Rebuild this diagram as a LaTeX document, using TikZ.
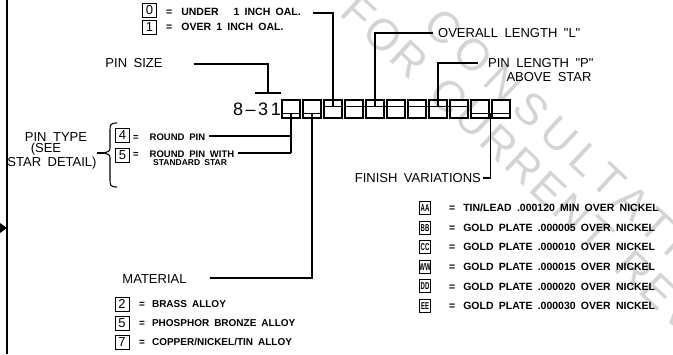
\documentclass[tikz,border=0pt]{standalone}
\usepackage{fontspec}
\setmainfont{Liberation Sans}
\newfontfamily\cadnote[WordSpace=2.2]{Liberation Sans}
\newfontfamily\cadhead[WordSpace=1.8]{Liberation Sans}
\newfontfamily\cadnum[LetterSpace=14]{Liberation Sans}
\newfontfamily\cadcode[FakeStretch=0.6]{Liberation Sans}
\newfontfamily\cadmarka[LetterSpace=18]{Liberation Sans}
\newfontfamily\cadmarkb[LetterSpace=6,WordSpace=1.5]{Liberation Sans}
\usetikzlibrary{positioning,calc}
\newcommand\keyeq{=\hspace{9pt}}
\tikzset{
  lead/.style={line width=1.1pt},
  digitbox/.style={draw,line width=1.1pt,minimum width=18pt,minimum height=18pt,inner sep=0pt},
  keybox/.style={draw,line width=1pt,minimum width=14pt,minimum height=14pt,inner sep=0pt,font=\fontsize{13}{13}\selectfont},
  codebox/.style={draw,line width=1pt,minimum width=11pt,minimum height=13pt,inner sep=0pt,font=\fontsize{10}{10}\cadcode\bfseries},
  note/.style={inner sep=0pt,anchor=west,font=\fontsize{10}{10}\cadnote\bfseries},
  head/.style={inner sep=0pt,font=\fontsize{13}{13}\cadhead},
  stamp/.style={inner sep=0pt,anchor=west,rotate=-43,text=black!17},
}
\begin{document}
\begin{tikzpicture}[x=1pt,y=-1pt,line join=miter]
\useasboundingbox (0,0) rectangle (673,354);
% watermark behind everything
\node[stamp,font=\fontsize{44}{44}\cadmarka] (wm1) at (432,16) {CONSULTATION};
\node[stamp,font=\fontsize{44}{44}\cadmarkb] (wm2) at (349,3) {FOR CURRENT REVISION};

% frame line with marker
\draw[lead] (7,0) -- (7,354);
\fill (0,223) -- (7,228) -- (0,233) -- cycle;

% part number and digit boxes
\node[inner sep=0pt,anchor=east,font=\fontsize{18}{18}\cadnum] (num) at (281,109) {8–31};
\foreach \i in {1,...,11}
  \node[digitbox] (b\i) at ({291+21*(\i-1)},109) {};

% pin size
\node[head] (psz) at (134,63) {PIN SIZE};
\coordinate (szl) at (255,93); \coordinate (szr) at (281,93);
\draw[lead] (szl) -- (szr);
\draw[lead] ([xshift=31pt,yshift=-1pt]psz.east) -| ($(szl)!.5!(szr)$);

% length code
\node[keybox] (k0) at (149.5,10) {0};
\node[keybox,below=2.5pt of k0] (k1) {1};
\node[note,font=\fontsize{10.5}{10.5}\cadnote\bfseries] (u0) at (166,12) {\keyeq UNDER\hspace{15pt}1 INCH OAL.};
\node[note,font=\fontsize{10.5}{10.5}\cadnote\bfseries] (u1) at (166,27) {\keyeq OVER 1 INCH OAL.};
\draw[lead] ([yshift=-7pt]b3.north west) coordinate (oa) -- ([yshift=-7pt]b3.north east) coordinate (ob);
\draw[lead] ([xshift=12pt,yshift=-1pt]u0.east) -| ($(oa)!.5!(ob)$);

% overall length
\draw[lead] ([yshift=-7pt]b4.north west) coordinate (la) -- ([yshift=-7pt]b6.north east) coordinate (lb);
\node[head,anchor=west] (ovl) at (438,33) {OVERALL LENGTH "L"};
\draw[lead] ($(la)!.5!(lb)$) |- ([xshift=-5pt]ovl.west);

% pin length
\draw[lead] ([yshift=-7pt]b7.north west) coordinate (pa) -- ([yshift=-7pt]b9.north east) coordinate (pb);
\node[head,anchor=west] (pln) at (488,63) {PIN LENGTH "P"};
\node[head] (abv) at (549,77) {ABOVE STAR};
\draw[lead] ($(pa)!.5!(pb)$) |- ([xshift=-10pt]pln.west);

% pin type
\node[head] (ptp) at (56,137) {PIN TYPE};
\node[head] (see) at (46,149) {(SEE};
\node[head] (sdt) at (52,163) {STAR DETAIL)};
\draw[lead] (117,123) .. controls (110,123) and (110,125) .. (110,131) -- (110,147)
  .. controls (110,151) .. (104,153) .. controls (110,155) .. (110,159) -- (110,179)
  .. controls (110,185) and (110,187) .. (117,187);
\draw[lead] (97,153) -- (104,153);
\node[keybox] (k4) at (122.5,135) {4};
\node[keybox] (k5) at (122.5,155) {5};
\node[note,font=\fontsize{9.5}{9.5}\cadnote\bfseries] (r4) at (133,137) {=\hspace{11pt}ROUND PIN};
\node[note,font=\fontsize{9.5}{9.5}\cadnote\bfseries] (r5) at (133,154) {=\hspace{11pt}ROUND PIN WITH};
\node[note,font=\fontsize{8.5}{8.5}\cadnote\bfseries] (r5b) at (153,163) {STANDARD STAR};
\draw[lead] ([yshift=5pt]b1.south) -- ([yshift=1pt]r5.east -| b1.south) coordinate (pe);
\draw[lead] ([xshift=4pt,yshift=1pt]r4.east) -- ([yshift=1pt]r4.east -| b1.south);
\draw[lead] ([xshift=4pt,yshift=1pt]r5.east) -- (pe);

% material
\node[head] (mat) at (154.5,279) {MATERIAL};
\node[keybox] (k2) at (122,304) {2};
\node[keybox] (k5m) at (122,323) {5};
\node[keybox] (k7) at (122,342) {7};
\node[note] (m2) at (139,304) {=\hspace{7pt}BRASS ALLOY};
\node[note] (m5) at (139,323) {=\hspace{7pt}PHOSPHOR BRONZE ALLOY};
\node[note] (m7) at (139,342) {=\hspace{7pt}COPPER/NICKEL/TIN ALLOY};
\draw[lead] ([xshift=23pt,yshift=1pt]mat.east) -| ([yshift=5pt]b2.south);

% bottom ticks
\draw[lead] ([xshift=1pt,yshift=5pt]b1.south west) -- ([xshift=-1pt,yshift=5pt]b1.south east);
\draw[lead] ([xshift=1pt,yshift=5pt]b2.south west) -- ([xshift=-1pt,yshift=5pt]b2.south east);
\draw[lead] ([yshift=5pt]b10.south west) coordinate (fa) -- ([yshift=5pt]b11.south east) coordinate (fb);

% finish variations
\node[head,anchor=east] (fin) at (481,178) {FINISH VARIATIONS};
\draw[lead] ($(fa)!.5!(fb)$) |- ([xshift=2pt]fin.east);
\foreach \c/\t [count=\n from 0] in {AA/{TIN/LEAD .000120 MIN OVER NICKEL},
    BB/{GOLD PLATE .000005 OVER NICKEL}, CC/{GOLD PLATE .000010 OVER NICKEL},
    WW/{GOLD PLATE .000015 OVER NICKEL}, DD/{GOLD PLATE .000020 OVER NICKEL},
    EE/{GOLD PLATE .000030 OVER NICKEL}}{
  \node[codebox] (c\c) at (425,{208+19.6*\n}) {\c};
  \node[note,font=\fontsize{10.5}{10.5}\cadnote\bfseries] (f\c) at (449,{208+19.6*\n}) {=\hspace{8pt}\t};
}
\end{tikzpicture}
\end{document}
